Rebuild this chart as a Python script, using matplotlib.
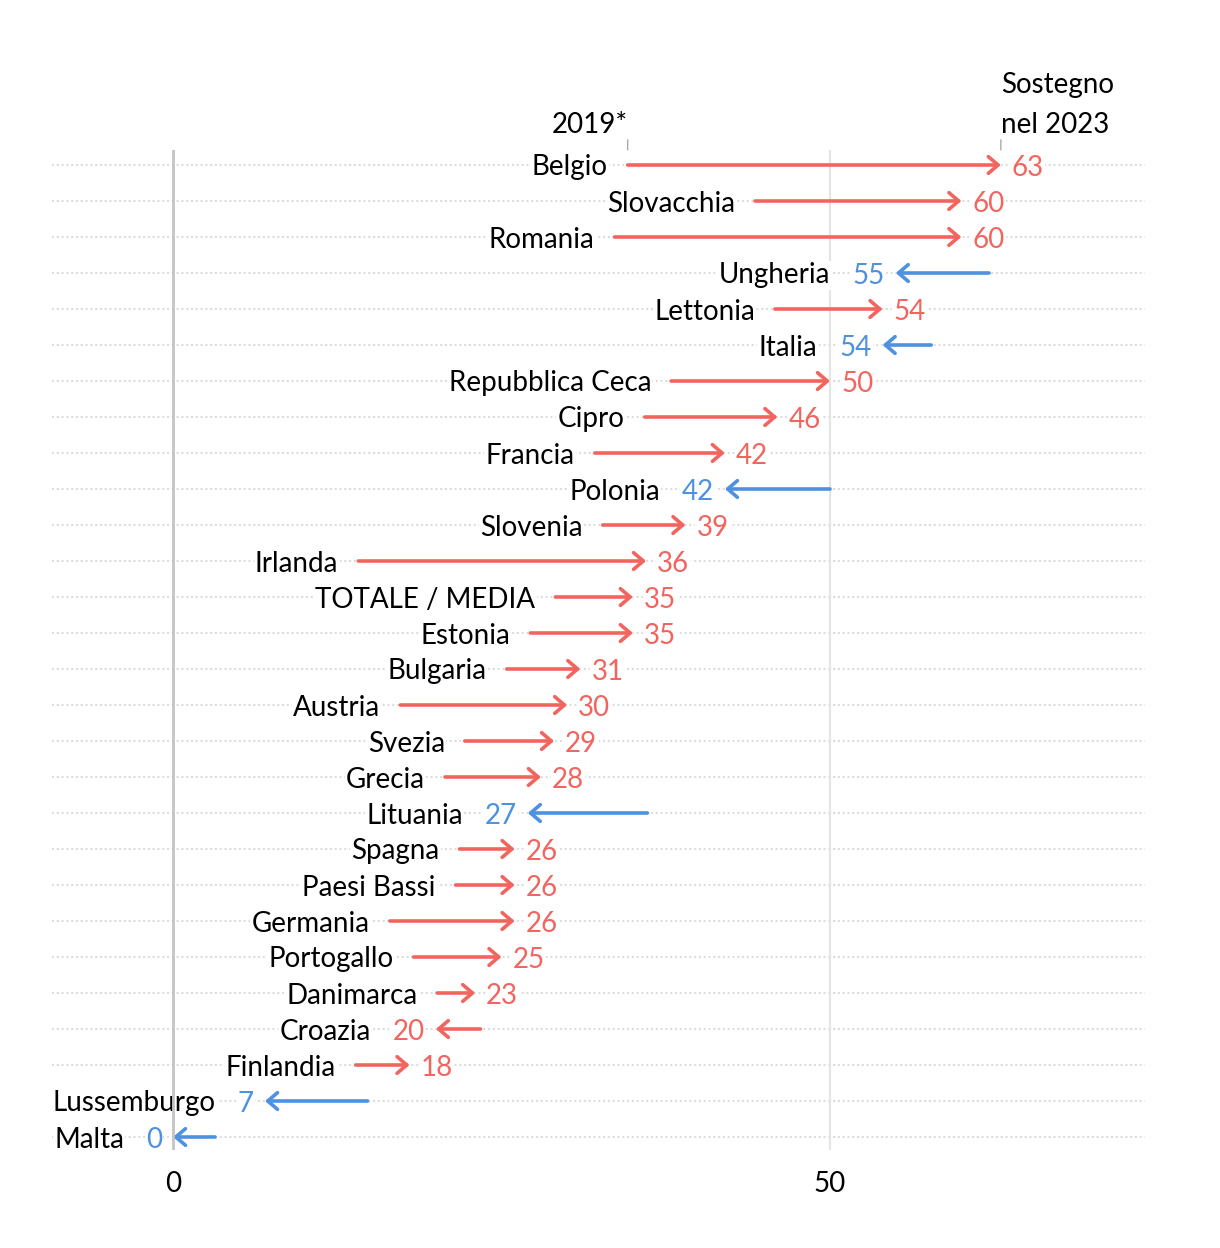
import matplotlib.pyplot as plt
import numpy as np

plt.rcParams['font.family'] = ['Lato', 'DejaVu Sans']

# dati: sostegno 2019 -> 2023
paesi = ['Belgio', 'Slovacchia', 'Romania', 'Ungheria', 'Lettonia', 'Italia',
         'Repubblica Ceca', 'Cipro', 'Francia', 'Polonia', 'Slovenia', 'Irlanda',
         'TOTALE / MEDIA', 'Estonia', 'Bulgaria', 'Austria', 'Svezia', 'Grecia',
         'Lituania', 'Spagna', 'Paesi Bassi', 'Germania', 'Portogallo', 'Danimarca',
         'Croazia', 'Finlandia', 'Lussemburgo', 'Malta']
v2019 = [34.6, 44.3, 33.6, 62.1, 45.8, 57.7, 37.9, 35.9, 32.1, 50.0, 32.7, 14.1,
         29.1, 27.2, 25.4, 17.3, 22.2, 20.7, 36.1, 21.8, 21.5, 16.5, 18.3, 20.1,
         23.4, 13.9, 14.8, 3.2]
v2023 = [63, 60, 60, 55, 54, 54, 50, 46, 42, 42, 39, 36, 35, 35, 31, 30, 29, 28,
         27, 26, 26, 26, 25, 23, 20, 18, 7, 0]
in_calo = ['Ungheria', 'Italia', 'Polonia', 'Lituania', 'Lussemburgo', 'Malta']

RED = '#F2655F'
BLUE = '#4D91E0'

W, H = 1220, 1248
fig = plt.figure(figsize=(W / 100, H / 100), dpi=100)
# axes from x=52..1145 px, y=150..1150 px
ax = fig.add_axes([52 / W, 1 - 1150 / H, (1145 - 52) / W, (1150 - 150) / H])
n = len(paesi)
ax.set_xlim(-9.21, 73.97)
ax.set_ylim((1150 - 165) / 36, -15 / 36)
ax.axis('off')

px = 0.72  # points per pixel at dpi 100
dy = -2.5 * px  # text sits a touch lower than the line

for i in range(n):
    ax.axhline(i, color='#dddddd', lw=1.5, ls=(0, (1, 1.3)), zorder=0)

ax.axvline(0, color='#c4c4c4', lw=2, zorder=4)
ax.axvline(50, color='#e4e4e4', lw=1.5, zorder=1)

fig.canvas.draw()
renderer = fig.canvas.get_renderer()

box = dict(fc='white', ec='none', pad=1)
for i, (p, a, b) in enumerate(zip(paesi, v2019, v2023)):
    col = BLUE if p in in_calo else RED
    ax.annotate('', xy=(b, i), xytext=(a, i),
                arrowprops=dict(arrowstyle='->,head_length=0.7,head_width=0.6',
                                color=col, lw=2.6, shrinkA=0, shrinkB=0,
                                capstyle='round', joinstyle='round'),
                zorder=3)
    if b >= a:
        ax.annotate(str(b), xy=(b, i), xytext=(11 * px, dy), textcoords='offset points',
                    ha='left', va='center', fontsize=20, color=col, bbox=box, zorder=2)
        ax.annotate(p, xy=(a, i), xytext=(-20 * px, dy), textcoords='offset points',
                    ha='right', va='center', fontsize=20, color='black', bbox=box, zorder=2)
    else:
        t = ax.annotate(str(b), xy=(b, i), xytext=(-11 * px, dy), textcoords='offset points',
                        ha='right', va='center', fontsize=20, color=col, bbox=box, zorder=2)
        w = t.get_window_extent(renderer).width
        ax.annotate(p, xy=(b, i), xytext=(-(11 + 22) * px - w * 0.72, dy),
                    textcoords='offset points',
                    ha='right', va='center', fontsize=20, color='black', bbox=box, zorder=2)

# intestazioni colonne
for v in [v2019[0], v2023[0]]:
    ax.annotate('', xy=(v, -0.42), xytext=(v, -0.7),
                arrowprops=dict(arrowstyle='-', color='#aaaaaa', lw=1, shrinkA=0, shrinkB=0),
                annotation_clip=False)
ax.text(v2019[0], -1.12, '2019*', ha='right', va='center', fontsize=20,
        color='black', clip_on=False)
ax.text(v2023[0], -1.12, 'nel 2023', ha='left', va='center', fontsize=20,
        color='black', clip_on=False)
ax.text(v2023[0], -2.23, 'Sostegno', ha='left', va='center', fontsize=20,
        color='black', clip_on=False)

# etichette asse x
for v in [0, 50]:
    ax.text(v, (1184 - 165) / 36, str(v), ha='center', va='center', fontsize=20,
            color='black', clip_on=False)

fig.savefig('out.png', dpi=100, facecolor='white')
